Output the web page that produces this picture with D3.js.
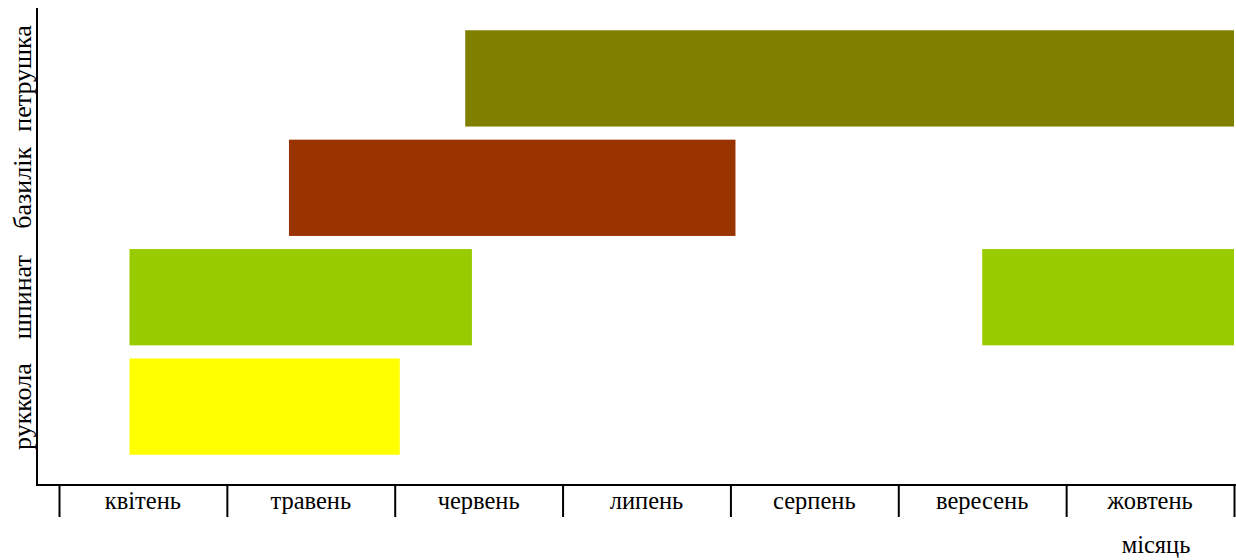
<!DOCTYPE html>
<html>
<head>
<meta charset="utf-8">
<script src="https://cdn.jsdelivr.net/npm/d3@7"></script>
<style>
  html, body { margin: 0; padding: 0; background: #fff; }
  svg { display: block; }
  text { font-family: "Liberation Serif", "Times New Roman", serif; fill: #000; }
</style>
</head>
<body>
<svg id="chart" width="1236" height="560"></svg>
<script>
// Growing seasons, in months (4 = start of April, 11 = end of October)
const crops = ["руккола", "шпинат", "базилік", "петрушка"];
const cropColors = ["#ffff00", "#99cc00", "#993300", "#808000"];
const periodCrop  = ["руккола", "шпинат", "шпинат", "базилік", "петрушка"];
const periodStart = [4.42, 4.42, 9.5, 5.37, 6.42];
const periodEnd   = [6.03, 6.46, 11.0, 8.03, 11.0];
const monthLabels = ["квітень", "травень", "червень", "липень", "серпень", "вересень", "жовтень"];
const monthBounds = [4, 5, 6, 7, 8, 9, 10, 11];
const xTitle = "місяць";

const svg = d3.select("#chart");
const axisX0 = 37, axisY = 485, axisTop = 8;

const x = d3.scaleLinear().domain([4, 11]).range([59, 1234]);
const y = d3.scaleBand().domain(crops).range([481, 4]).paddingInner(0.12).paddingOuter(0.24);
const color = d3.scaleOrdinal().domain(crops).range(cropColors);

const periods = periodCrop.map((c, i) => ({ crop: c, start: periodStart[i], end: periodEnd[i] }));

// bars
svg.append("g").selectAll("rect").data(periods).join("rect")
  .attr("x", d => x(d.start))
  .attr("width", d => x(d.end) - x(d.start))
  .attr("y", d => y(d.crop))
  .attr("height", y.bandwidth())
  .attr("fill", d => color(d.crop));

// month boundary ticks
const xAxis = svg.append("g").attr("transform", `translate(0,${axisY})`)
  .call(d3.axisBottom(x).tickValues(monthBounds).tickSize(32).tickFormat(""));
xAxis.select(".domain").remove();
xAxis.selectAll(".tick line").attr("stroke", "#000").attr("stroke-width", 2);

// month names centred between boundaries
svg.append("g").selectAll("text").data(monthLabels).join("text")
  .attr("x", (d, i) => x(monthBounds[i] + 0.5))
  .attr("y", axisY + 24)
  .attr("text-anchor", "middle")
  .attr("font-size", 24.5)
  .text(d => d);

// axis lines
svg.append("line").attr("x1", axisX0).attr("x2", 1236).attr("y1", axisY).attr("y2", axisY)
  .attr("stroke", "#000").attr("stroke-width", 2);
svg.append("line").attr("x1", axisX0).attr("x2", axisX0).attr("y1", axisTop).attr("y2", axisY + 1)
  .attr("stroke", "#000").attr("stroke-width", 2);

// crop names, rotated
svg.append("g").selectAll("text").data(crops).join("text")
  .attr("transform", d => `translate(31,${y(d) + y.bandwidth() / 2}) rotate(-90)`)
  .attr("text-anchor", "middle")
  .attr("font-size", 26)
  .text(d => d);

// axis title
svg.append("text").attr("x", 1156).attr("y", 553)
  .attr("text-anchor", "middle").attr("font-size", 24.5).text(xTitle);
</script>
</body>
</html>
